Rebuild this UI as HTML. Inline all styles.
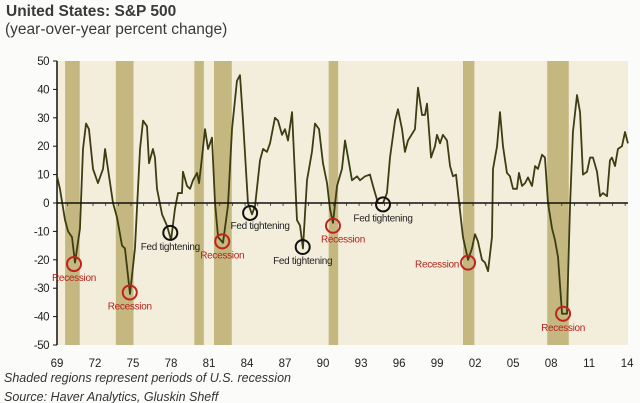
<!DOCTYPE html>
<html><head><meta charset="utf-8"><style>
body{margin:0;background:#fbfbf9;width:640px;height:403px;overflow:hidden;font-family:"Liberation Sans",sans-serif}
svg{display:block}
</style></head><body>
<svg id="chart" width="640" height="403" xmlns="http://www.w3.org/2000/svg">
<text x="6" y="16" font-size="15.5" font-weight="bold" fill="#3a3a3a">United States: S&amp;P 500</text>
<text x="5" y="34" font-size="15.5" fill="#3a3a3a">(year-over-year percent change)</text>
<rect x="57" y="61" width="571" height="284" fill="#f3eedb"/>
<g id="shades"></g><g id="grid"></g><g id="line"></g><g id="annot"></g>
<text x="4" y="382" font-size="12.5" font-style="italic" fill="#333">Shaded regions represent periods of U.S. recession</text>
<text x="4" y="401" font-size="12.5" font-style="italic" fill="#333">Source: Haver Analytics, Gluskin Sheff</text>
</svg>
<script>
const recessions=[[1969.8,1970.95],[1973.8,1975.2],[1980.0,1980.75],[1981.55,1982.95],[1990.6,1991.35],[2001.2,2002.1],[2007.85,2009.55]];
const years=[1969.16,1969.39,1969.79,1970.03,1970.34,1970.58,1970.97,1971.21,1971.45,1971.68,1972.0,1972.39,1972.79,1972.95,1973.18,1973.58,1973.89,1974.29,1974.52,1974.92,1975.31,1975.71,1975.95,1976.26,1976.42,1976.73,1976.89,1977.05,1977.45,1977.84,1978.16,1978.47,1978.71,1979.02,1979.1,1979.42,1979.66,1979.89,1980.21,1980.37,1980.6,1980.84,1981.08,1981.39,1981.63,1981.87,1982.26,1982.65,1982.97,1983.36,1983.6,1983.84,1984.23,1984.55,1984.79,1985.18,1985.42,1985.73,1985.97,1986.36,1986.6,1986.92,1987.15,1987.39,1987.71,1988.1,1988.34,1988.57,1988.89,1989.28,1989.52,1989.84,1990.15,1990.47,1990.7,1990.94,1991.26,1991.65,1991.89,1992.13,1992.44,1992.84,1993.07,1993.47,1993.86,1994.1,1994.49,1994.89,1995.2,1995.44,1995.84,1996.07,1996.39,1996.62,1996.86,1997.41,1997.65,1997.97,1998.2,1998.36,1998.68,1998.99,1999.15,1999.39,1999.62,1999.94,2000.18,2000.41,2000.65,2000.81,2001.2,2001.6,2001.91,2002.15,2002.38,2002.7,2002.94,2003.18,2003.49,2003.57,2003.89,2004.12,2004.36,2004.67,2004.91,2005.15,2005.46,2005.62,2005.86,2006.1,2006.33,2006.65,2006.89,2007.12,2007.44,2007.67,2007.91,2008.23,2008.46,2008.7,2009.02,2009.41,2009.65,2009.88,2010.2,2010.44,2010.67,2010.99,2011.23,2011.46,2011.78,2012.02,2012.25,2012.57,2012.8,2012.96,2013.2,2013.43,2013.75,2013.99,2014.22];
const values=[9.4,5,-6,-10,-12,-21,-9,19,28,26,12,7,12,19,12,0,-5,-15,-16,-32,-16,19,29,27,14,19,16,5,-4,-8,-13,-2,3.5,3.5,11,6,5,8,10.6,7,16,26,19,23,0,-12,-14,-1,26,43,45,29,0,-4,-1,15,19,18,21,30,29,24,26,22,32,-6,-8,-16,8,18,28,26,14,7,-2,-7,6,12,22,16,8,9.4,8,9.4,10,6,0,0,3.5,16,29,33,26,18,22,26,40.6,31,31,35,16,20,24,21,24,22,13,9.4,10,3.5,-12,-20,-16,-11,-13.5,-20,-21,-24,-12,12,20,32,20,10.6,9.4,5,5,10.6,6,7,9,6,13,12,17,16,0,-9,-13,-19,-39,-39,-1,25,38,32,10,11,16,16,11,2.4,3.5,2.4,15,16,13,19,20,25,21];
const yTicks=[50,40,30,20,10,0,-10,-20,-30,-40,-50];
const xTickYears=[1969,1972,1975,1978,1981,1984,1987,1990,1993,1996,1999,2002,2005,2008,2011,2014];
const xTickLabels=["69","72","75","78","81","84","87","90","93","96","99","02","05","08","11","14"];
const annotYears=[1970.5,1974.9,1978.1,1982.2,1984.4,1988.55,1990.94,1994.89,2001.6,2009.1];
const annotValues=[-21.5,-31.5,-10.5,-13.5,-3.5,-15.5,-8,-0.5,-21,-39];
const annotLabels=["Recession","Recession","Fed tightening","Recession","Fed tightening","Fed tightening","Recession","Fed tightening","Recession","Recession"];
const annotKinds=["r","r","f","r","f","f","r","f","r","r"];
const NS="http://www.w3.org/2000/svg";
const X=y=>55+(y-1969)*12.67;
const Y=v=>203-v*2.84;
function mk(tag,attrs,parent,txt){const e=document.createElementNS(NS,tag);for(const k in attrs)e.setAttribute(k,attrs[k]);if(txt!==undefined)e.textContent=txt;parent.appendChild(e);return e;}
const gs=document.getElementById('shades'),gg=document.getElementById('grid'),gl=document.getElementById('line'),ga=document.getElementById('annot');
recessions.forEach(r=>{const e=mk('rect',{x:X(r[0]),y:61,width:X(r[1])-X(r[0]),height:284,fill:'#c4b77f'},gs);

});
mk('line',{x1:57,y1:61,x2:57,y2:345,stroke:'#111','stroke-width':1.5},gg);
yTicks.forEach(t=>{mk('line',{x1:53,y1:Y(t),x2:57,y2:Y(t),stroke:'#111'},gg);
const e=mk('text',{x:49,y:Y(t)+4,'font-size':11.5,'text-anchor':'end',fill:'#222','letter-spacing':'-0.5'},gg,String(t));

});
for(let yr=1970;yr<=2014;yr++){mk('line',{x1:X(yr),y1:203,x2:X(yr),y2:206,stroke:'#333','stroke-width':0.8},gg);}
xTickYears.forEach((yr,i)=>{const e=mk('text',{x:X(yr)+2,y:367,'font-size':11.5,'text-anchor':'middle',fill:'#222'},gg,xTickLabels[i]);

});
const pl=mk('polyline',{points:years.map((y,i)=>X(y)+','+Y(values[i])).join(' '),fill:'none',stroke:'#3b3d12','stroke-width':1.8,'stroke-linejoin':'round'},gl);


mk('line',{x1:57,y1:203,x2:628,y2:203,stroke:'#111','stroke-width':1.6},gl);
annotYears.forEach((yr,i)=>{const cx=X(yr),cy=Y(annotValues[i]);const red=annotKinds[i]==='r';
const c=mk('circle',{cx:cx,cy:cy,r:7,fill:'none',stroke:red?'#c0221c':'#111','stroke-width':2},ga);


let tx=cx,anchor='middle',ty=cy+17;
if(i===8){tx=cx-9;anchor='end';ty=cy+5;}
if(i===4){tx=cx+10;ty=cy+16;}
if(i===6){tx=cx+10;}
const t=mk('text',{x:tx,y:ty,'font-size':10,'text-anchor':anchor,fill:red?'#b3221c':'#222','letter-spacing':'-0.3'},ga,annotLabels[i]);

});
</script>
</body></html>
